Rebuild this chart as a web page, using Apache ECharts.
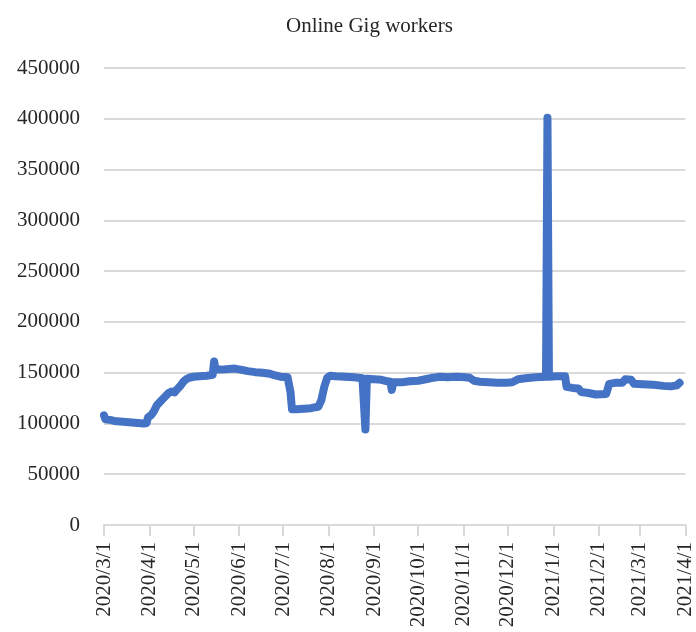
<!DOCTYPE html>
<html><head><meta charset="utf-8">
<script src="https://cdn.jsdelivr.net/npm/echarts@6/dist/echarts.min.js"></script>
<style>html,body{margin:0;padding:0;background:#fff}#c{width:696px;height:632px}</style>
</head><body><div id="c"></div>
<script>
const chartTitle = 'Online Gig workers';
const yTicks = [0, 50000, 100000, 150000, 200000, 250000, 300000, 350000, 400000, 450000];
const axisStart = '2020-03-01';
const axisEnd = '2021-04-01';
const pointDates = [
'2020-03-01','2020-03-02','2020-03-03','2020-03-05','2020-03-08','2020-03-12','2020-03-16','2020-03-20','2020-03-24','2020-03-28','2020-03-30','2020-03-31',
'2020-04-02','2020-04-04','2020-04-06','2020-04-08','2020-04-10','2020-04-12','2020-04-14','2020-04-16','2020-04-18','2020-04-20','2020-04-22','2020-04-24','2020-04-26','2020-04-28',
'2020-05-01','2020-05-05','2020-05-10','2020-05-14','2020-05-15','2020-05-16','2020-05-20','2020-05-25','2020-05-29',
'2020-06-02','2020-06-07','2020-06-12','2020-06-17','2020-06-22','2020-06-25','2020-06-29',
'2020-07-04','2020-07-05','2020-07-06','2020-07-07','2020-07-10','2020-07-15','2020-07-20','2020-07-23','2020-07-25','2020-07-27','2020-07-29','2020-07-31',
'2020-08-02','2020-08-06','2020-08-12','2020-08-18','2020-08-24','2020-08-26','2020-08-27',
'2020-09-01','2020-09-06','2020-09-10','2020-09-12','2020-09-13','2020-09-14','2020-09-20','2020-09-25',
'2020-10-01','2020-10-06','2020-10-11','2020-10-16','2020-10-21','2020-10-27',
'2020-11-02','2020-11-05','2020-11-08','2020-11-12','2020-11-18','2020-11-24','2020-11-30',
'2020-12-04','2020-12-08','2020-12-13','2020-12-20','2020-12-27','2020-12-28','2020-12-29',
'2021-01-03','2021-01-09','2021-01-10','2021-01-14','2021-01-18','2021-01-20','2021-01-25','2021-01-30',
'2021-02-06','2021-02-08','2021-02-12','2021-02-17','2021-02-19','2021-02-23','2021-02-25',
'2021-03-03','2021-03-10','2021-03-17','2021-03-22','2021-03-26','2021-03-28'
];
const workers = [
108000,104000,104500,103500,102500,102000,101500,101000,100500,100000,100500,106000,
108000,112000,118000,121000,124000,127000,130000,131500,130500,134000,137000,141000,143500,145000,
146000,146500,147000,148000,161000,153000,153000,153500,154000,
153000,151500,150500,150000,149000,147500,146000,
145500,145000,131000,114000,114000,114500,115000,116000,116500,123000,136000,145000,
147000,146500,146000,145500,144500,94000,144000,
143500,143000,141500,141000,133000,140500,140500,141500,
142000,143500,145000,146000,145500,146000,
145500,145000,142000,141000,140500,140000,140000,
140500,143500,144500,145500,146000,401000,146000,
146500,146500,136000,135000,134500,131000,130000,128500,
129000,139000,140000,140000,143500,143000,139000,
138500,138000,137000,136500,137500,140000
];

// build daily category list for the axis
function fmt(d){return d.getUTCFullYear()+'/'+(d.getUTCMonth()+1)+'/'+d.getUTCDate();}
const days = [];
for (let t = Date.parse(axisStart+'T00:00:00Z'); t <= Date.parse(axisEnd+'T00:00:00Z'); t += 86400000) days.push(fmt(new Date(t)));
const seriesData = pointDates.map((s, i) => [fmt(new Date(Date.parse(s+'T00:00:00Z'))), workers[i]]);
const isMonthStart = (idx, val) => /\/1$/.test(val) && !/\/(1|2|3)1$/.test(val);

const font = 'Liberation Serif, Times New Roman, serif';
const chart = echarts.init(document.getElementById('c'), null, {renderer: 'canvas'});
chart.setOption({
  animation: false,
  title: {text: chartTitle, left: 281, top: 11, textStyle: {fontFamily: font, fontSize: 21, fontWeight: 'normal', color: '#262626'}},
  grid: {left: 104, right: 10, top: 68, bottom: 107, containLabel: false},
  xAxis: {
    type: 'category', data: days, boundaryGap: false,
    axisLine: {lineStyle: {color: '#d9d9d9', width: 2}},
    axisTick: {show: true, interval: isMonthStart, length: 11, lineStyle: {color: '#d9d9d9', width: 2}},
    axisLabel: {interval: isMonthStart, rotate: 90, margin: 17, fontFamily: font, fontSize: 21, color: '#262626'},
    splitLine: {show: false}
  },
  yAxis: {
    type: 'value', min: yTicks[0], max: yTicks[yTicks.length-1], interval: yTicks[1]-yTicks[0],
    axisLine: {show: false}, axisTick: {show: false},
    axisLabel: {margin: 24, fontFamily: font, fontSize: 21, color: '#262626', formatter: v => String(v)},
    splitLine: {lineStyle: {color: '#d9d9d9', width: 2}}
  },
  series: [{
    type: 'line', data: seriesData, showSymbol: false, symbol: 'none',
    lineStyle: {color: '#4472C4', width: 8, cap: 'round', join: 'round'}
  }]
});
</script></body></html>
